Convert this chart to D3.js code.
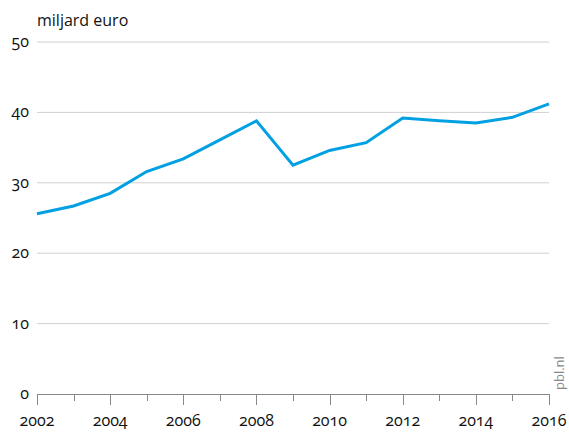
<!DOCTYPE html>
<html>
<head>
<meta charset="utf-8">
<script src="https://cdn.jsdelivr.net/npm/d3@7"></script>
<style>
  body { margin: 0; background: #fff; }
  #wrap { position: relative; width: 569px; height: 432px; }
  #wrap svg { position: absolute; left: 0; top: 0; }
  .lbl {
    position: absolute;
    font-family: "Open Sans", "Noto Sans", sans-serif;
    font-feature-settings: "onum" 1;
    font-size: 16px;
    line-height: 16px;
    color: #111;
    white-space: nowrap;
  }
</style>
</head>
<body>
<div id="wrap"><svg id="chart" width="569" height="432"></svg></div>
<script>
// Data
const years = [2002, 2003, 2004, 2005, 2006, 2007, 2008, 2009, 2010, 2011, 2012, 2013, 2014, 2015, 2016];
const values = [25.6, 26.7, 28.5, 31.6, 33.4, 36.1, 38.8, 32.5, 34.6, 35.7, 39.2, 38.8, 38.5, 39.3, 41.2];
const yTicks = [0, 10, 20, 30, 40, 50];
const xLabelYears = [2002, 2004, 2006, 2008, 2010, 2012, 2014, 2016];

const wrap = d3.select("#wrap");
const svg = d3.select("#chart");

const x = d3.scaleLinear().domain([2002, 2016]).range([37, 549]);
const y = d3.scaleLinear().domain([0, 50]).range([394, 42]);

// gridlijnen
svg.append("g")
  .selectAll("line")
  .data(yTicks.filter(d => d > 0))
  .enter()
  .append("line")
  .attr("x1", x(2002))
  .attr("x2", x(2016))
  .attr("y1", d => y(d))
  .attr("y2", d => y(d))
  .attr("stroke", "#d0d0d0")
  .attr("stroke-width", 1);

// x-as
svg.append("line")
  .attr("x1", x(2002))
  .attr("x2", x(2016))
  .attr("y1", y(0) + 0.5)
  .attr("y2", y(0) + 0.5)
  .attr("stroke", "#888");

svg.append("g")
  .selectAll("line")
  .data(years)
  .enter()
  .append("line")
  .attr("x1", d => Math.round(x(d)) + 0.5)
  .attr("x2", d => Math.round(x(d)) + 0.5)
  .attr("y1", y(0))
  .attr("y2", d => y(0) + (d % 2 === 0 ? 11 : 7))
  .attr("stroke", "#888");

// lijn
const line = d3.line()
  .x((d, i) => x(years[i]))
  .y(d => y(d));

svg.append("path")
  .datum(values)
  .attr("d", line)
  .attr("fill", "none")
  .attr("stroke", "#00a0e2")
  .attr("stroke-width", 3)
  .attr("stroke-linejoin", "miter");

// teksten als html (svg-tekst negeert oldstyle cijfers)
wrap.selectAll(".ylbl")
  .data(yTicks)
  .enter()
  .append("div")
  .attr("class", "lbl ylbl")
  .style("right", (569 - 29) + "px")
  .style("top", d => (y(d) - 9) + "px")
  .text(d => d);

wrap.selectAll(".xlbl")
  .data(xLabelYears)
  .enter()
  .append("div")
  .attr("class", "lbl xlbl")
  .style("left", d => x(d) + "px")
  .style("top", "412px")
  .style("transform", "translateX(-50%)")
  .text(d => d);

// eenheid
wrap.append("div")
  .attr("class", "lbl")
  .style("left", "37px")
  .style("top", "12px")
  .text("miljard euro");

// bron
svg.append("text")
  .attr("transform", "translate(564, 390) rotate(-90)")
  .style("font-family", "'Open Sans', sans-serif")
  .style("font-size", "13px")
  .style("fill", "#888")
  .text("pbl.nl");
</script>
</body>
</html>
